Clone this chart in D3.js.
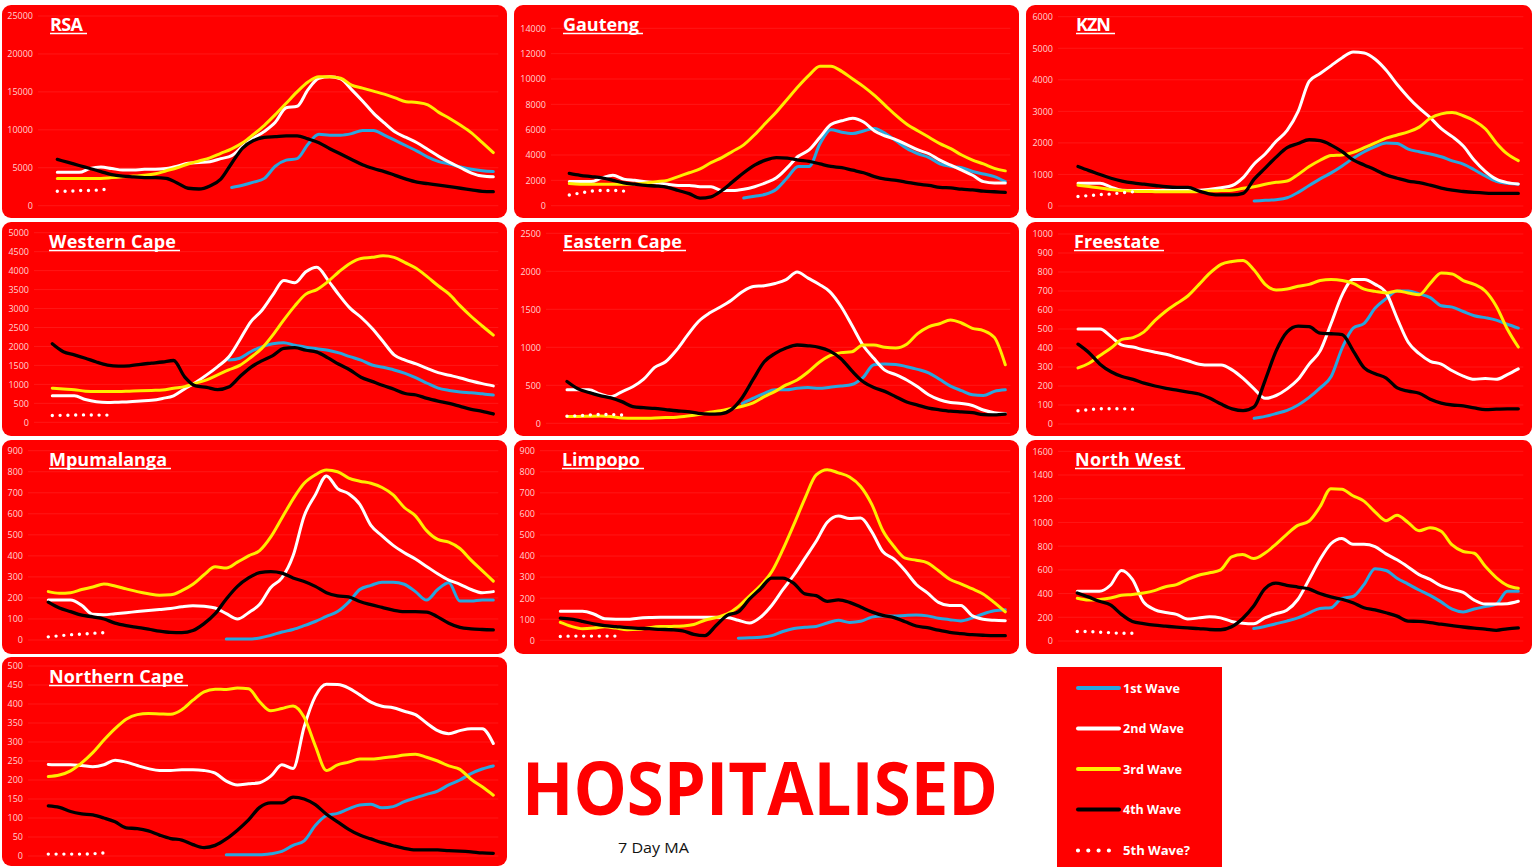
<!DOCTYPE html>
<html><head><meta charset="utf-8">
<script src="https://cdn.jsdelivr.net/npm/d3@7"></script>
<style>
html,body{margin:0;padding:0;background:#fff;}
svg{display:block;}
</style></head><body>
<svg id="chart" width="1533" height="867"></svg>
<script>
// ---------- DATA (7-day MA hospitalisations) ----------
// Waves 2-5 start at day index 0; wave 1 starts at index W1_OFFSET. 41 samples in total.
const W1_OFFSET = 16;
const waveNames = ["1st Wave", "2nd Wave", "3rd Wave", "4th Wave", "5th Wave?"];

const rsaTicks = [0, 5000, 10000, 15000, 20000, 25000];
const rsaW1 = [2400,2700,3100,3600,5200,6000,6200,8100,9400,9300,9300,9500,9900,9900,9300,8600,7900,7200,6400,5800,5500,5100,4800,4600,4500];
const rsaW2 = [4400,4400,4400,4900,5100,4900,4700,4700,4800,4800,4900,5200,5600,5700,5800,6200,6600,7800,8900,9800,11000,12900,13100,15300,16800,17000,16700,15300,13800,12200,10900,9700,9000,8300,7400,6500,5700,5000,4300,3900,3800];
const rsaW3 = [3600,3600,3600,3600,3600,3700,3800,3900,4000,4200,4600,5000,5500,5900,6300,6900,7500,8300,9400,10600,12000,13500,15000,16300,17000,17000,16800,15900,15500,15100,14700,14200,13700,13600,13300,12300,11500,10600,9600,8300,7000];
const rsaW4 = [6100,5700,5300,4900,4500,4100,3900,3800,3700,3700,3600,3000,2300,2200,2600,3500,5600,7600,8600,9000,9100,9200,9200,8800,8300,7500,6800,6100,5400,4900,4500,4000,3500,3100,2900,2700,2500,2300,2100,1900,1850];
const rsaW5 = [1900,1900,2000,2000,2100,2200];

const gautengTicks = [0, 2000, 4000, 6000, 8000, 10000, 12000, 14000];
const gautengW1 = [600,750,900,1300,2200,3100,3100,4900,6000,5800,5700,5900,6100,5700,5100,4500,4100,3800,3300,3100,3000,2700,2500,2300,1900];
const gautengW2 = [1900,1900,1900,2200,2400,2100,2000,1900,1800,1700,1600,1600,1500,1500,1200,1200,1300,1500,1800,2200,3000,3900,4400,5400,6400,6700,6900,6600,5900,5500,5200,4800,4400,4100,3600,3200,2800,2400,1900,1800,1800];
const gautengW3 = [1750,1700,1700,1700,1700,1700,1700,1800,1900,2000,2300,2600,2900,3400,3800,4300,4800,5600,6500,7400,8400,9400,10300,11000,11000,10600,10000,9400,8700,7900,7100,6400,5900,5400,4900,4500,4000,3600,3300,2950,2750];
const gautengW4 = [2550,2400,2300,2200,2000,1800,1700,1600,1550,1450,1200,950,600,700,1200,1900,2600,3200,3600,3800,3750,3600,3500,3300,3100,3000,2800,2600,2300,2100,2000,1850,1700,1600,1450,1400,1300,1250,1150,1100,1050];
const gautengW5 = [850,1000,1150,1200,1200,1150];

const kznTicks = [0, 1000, 2000, 3000, 4000, 5000, 6000];
const kznW1 = [160,180,200,260,430,650,860,1050,1270,1510,1720,1880,2000,1980,1800,1720,1650,1560,1430,1330,1150,950,780,720,690];
const kznW2 = [720,720,720,600,500,490,490,490,500,500,500,500,530,580,650,900,1330,1650,2050,2400,3000,3950,4200,4450,4700,4880,4850,4650,4300,3850,3450,3100,2800,2450,2200,1900,1450,1100,850,740,700];
const kznW3 = [660,620,570,520,490,470,460,455,450,450,450,460,480,490,500,560,610,690,750,790,1000,1250,1450,1600,1620,1700,1850,2000,2150,2250,2350,2500,2780,2920,2960,2860,2700,2450,2000,1650,1440];
const kznW4 = [1250,1120,1000,880,790,730,690,650,610,590,590,470,380,350,350,400,850,1200,1550,1850,1980,2100,2070,1930,1720,1460,1300,1150,980,880,790,740,660,570,500,460,430,410,400,400,400];
const kznW5 = [300,330,360,380,420,450];

const wcTicks = [0, 500, 1000, 1500, 2000, 2500, 3000, 3500, 4000, 4500, 5000];
const wcW1 = [1640,1690,1860,1990,2070,2100,2030,1980,1940,1900,1830,1730,1640,1510,1450,1380,1290,1170,1030,900,840,800,780,750,720];
const wcW2 = [700,700,700,600,540,520,530,540,560,580,630,700,880,1050,1250,1470,1720,2170,2650,2950,3360,3740,3680,3970,4090,3750,3360,3010,2770,2480,2130,1780,1640,1540,1420,1310,1240,1170,1090,1020,960];
const wcW3 = [900,880,860,820,810,810,810,820,830,840,850,900,940,1030,1120,1250,1380,1500,1710,1950,2300,2700,3070,3380,3500,3710,3970,4190,4320,4350,4390,4350,4210,4060,3840,3600,3380,3070,2790,2540,2300];
const wcW4 = [2070,1860,1780,1690,1590,1510,1480,1490,1530,1560,1590,1630,1200,960,920,860,930,1200,1450,1620,1760,1950,1970,1900,1850,1700,1530,1380,1190,1080,970,870,760,720,630,560,500,420,340,290,220];
const wcW5 = [180,185,190,195,190,190];

const ecTicks = [0, 500, 1000, 1500, 2000, 2500];
const ecW1 = [260,330,395,440,440,460,470,460,475,490,510,600,770,780,775,745,710,665,580,490,430,375,365,420,440];
const ecW2 = [440,440,440,385,350,415,480,580,735,810,965,1160,1340,1450,1530,1620,1730,1800,1810,1840,1890,1990,1910,1830,1730,1540,1290,1030,855,700,640,570,480,375,310,275,260,235,175,140,130];
const ecW3 = [90,90,92,95,90,70,65,65,70,75,80,95,115,145,165,195,225,270,350,420,505,570,675,800,890,930,940,1030,1030,1000,990,1040,1180,1270,1310,1360,1320,1250,1220,1130,770];
const ecW4 = [550,455,405,365,335,285,220,205,195,180,165,155,130,120,125,180,340,580,810,920,990,1030,1020,1000,950,850,690,550,470,420,350,280,240,200,178,160,150,140,115,110,120];
const ecW5 = [95,100,110,115,115,110];

const fsTicks = [0, 100, 200, 300, 400, 500, 600, 700, 800, 900, 1000];
const fsW1 = [30,40,55,72,100,140,190,250,400,505,530,610,660,700,700,685,665,622,615,592,570,560,547,525,505];
const fsW2 = [500,500,500,460,415,405,390,378,367,350,333,315,310,310,285,240,185,135,150,185,235,315,385,530,680,760,760,735,690,555,430,370,330,315,280,252,235,240,235,260,290];
const fsW3 = [295,320,360,400,445,455,485,545,595,635,675,735,795,840,855,860,810,735,705,710,725,735,755,760,755,740,710,698,690,700,690,680,740,795,790,755,735,700,620,500,405];
const fsW4 = [420,375,315,275,250,235,215,200,188,178,168,158,135,105,80,70,90,230,385,485,515,512,478,475,470,385,295,265,242,190,173,162,130,110,100,95,85,76,78,80,80];
const fsW5 = [70,75,80,80,80,78];

const mpTicks = [0, 100, 200, 300, 400, 500, 600, 700, 800, 900];
const mpW1 = [5,5,5,10,22,38,50,68,88,112,135,180,240,260,275,275,265,230,190,240,272,185,185,190,190];
const mpW2 = [190,190,190,165,122,120,125,130,135,140,145,150,158,163,160,152,125,100,130,170,250,295,400,590,690,780,720,695,645,545,495,450,415,385,350,315,285,265,240,225,230];
const mpW3 = [230,222,225,240,252,266,257,243,230,220,213,215,235,265,310,348,342,370,400,425,490,580,670,745,785,808,800,770,755,745,725,690,630,590,520,478,465,435,380,330,280];
const mpW4 = [180,152,135,118,110,100,80,68,60,52,42,36,35,45,78,125,195,255,295,320,325,318,295,278,255,225,210,205,183,168,155,142,135,135,133,110,80,60,53,50,48];
const mpW5 = [15,20,25,28,32,35];

const limTicks = [0, 100, 200, 300, 400, 500, 600, 700, 800, 900];
const limW1 = [10,12,15,22,42,56,62,66,82,95,85,90,110,115,115,118,120,116,105,98,92,105,125,140,145];
const limW2 = [138,138,138,125,102,100,100,105,108,110,110,110,110,110,110,108,95,82,110,165,240,310,390,470,560,590,578,580,515,420,385,330,265,225,180,165,165,118,100,95,93];
const limW3 = [85,66,55,58,64,58,50,52,60,65,66,68,75,95,108,125,160,210,260,325,430,550,675,785,810,795,775,730,645,520,445,390,380,368,330,290,268,245,220,180,135];
const limW4 = [105,100,90,78,70,65,60,57,55,52,50,45,28,22,70,118,135,195,245,295,295,270,220,212,185,192,180,158,135,118,108,88,68,60,48,38,32,27,24,22,22];
const limW5 = [18,20,20,20,20,20];

const nwTicks = [0, 200, 400, 600, 800, 1000, 1200, 1400, 1600];
const nwW1 = [105,122,145,168,195,235,275,280,360,375,475,610,595,530,480,430,385,330,268,245,270,290,310,420,420];
const nwW2 = [420,420,420,470,595,520,330,265,240,225,185,195,205,195,165,150,145,195,230,260,350,515,685,820,865,815,815,795,735,685,625,560,520,465,435,410,345,312,312,315,335];
const nwW3 = [360,345,350,362,385,393,405,425,458,475,520,555,575,600,710,730,695,740,815,900,975,1010,1130,1285,1280,1225,1180,1090,1015,1060,1000,930,955,925,810,755,740,630,535,470,445];
const nwW4 = [405,372,335,305,225,165,147,133,125,117,110,105,97,95,120,190,295,440,488,470,455,440,400,372,352,322,280,262,238,210,168,165,155,142,130,118,108,100,90,103,110];
const nwW5 = [80,80,75,70,65,65];

const ncTicks = [0, 50, 100, 150, 200, 250, 300, 350, 400, 450, 500];
const ncW1 = [3,3,3,3,6,12,28,40,80,106,112,124,134,136,127,130,143,153,162,171,187,200,217,229,237];
const ncW2 = [241,240,240,238,235,240,252,247,238,230,225,225,227,227,225,218,197,187,190,193,210,240,230,340,420,452,451,442,424,405,394,390,381,372,350,330,322,330,335,335,296];
const ncW3 = [209,213,224,245,272,305,335,360,372,375,374,373,385,410,432,439,438,442,440,406,382,388,395,365,290,225,240,247,255,255,258,261,266,268,260,250,237,228,202,182,160];
const ncW4 = [132,128,117,111,108,100,90,74,72,66,55,46,42,30,22,28,45,68,95,128,140,140,155,150,135,110,90,70,55,45,35,27,20,16,16,16,14,13,11,8,7];
const ncW5 = [5,5,5,5,6,8];

// ---------- STYLE / LAYOUT ----------
const waveColors = ["#2aa6de", "#ffffff", "#ffec00", "#000000", "#ffffff"];
const panelRed = "#ff0000";

const panels = [
  {title:"RSA", waves:[rsaW1,rsaW2,rsaW3,rsaW4,rsaW5], ticks:rsaTicks, box:[2,5,505,213], x0:57.3, x1:493.3, y0:205.7, y1:16, lab:33, tx:50, tw:33},
  {title:"Gauteng", waves:[gautengW1,gautengW2,gautengW3,gautengW4,gautengW5], ticks:gautengTicks, box:[514,5,505,213], x0:569.3, x1:1005.3, y0:205.7, y1:28.3, lab:546, tx:563, tw:76},
  {title:"KZN", waves:[kznW1,kznW2,kznW3,kznW4,kznW5], ticks:kznTicks, box:[1026,5,506,213], x0:1078, x1:1518.3, y0:206, y1:16.7, lab:1053, tx:1076, tw:35},
  {title:"Western Cape", waves:[wcW1,wcW2,wcW3,wcW4,wcW5], ticks:wcTicks, box:[2,222,505,214], x0:52.3, x1:493.3, y0:422.3, y1:232.7, lab:29, tx:49, tw:127},
  {title:"Eastern Cape", waves:[ecW1,ecW2,ecW3,ecW4,ecW5], ticks:ecTicks, box:[514,222,505,214], x0:567, x1:1005.3, y0:423.3, y1:233.3, lab:541, tx:563, tw:119},
  {title:"Freestate", waves:[fsW1,fsW2,fsW3,fsW4,fsW5], ticks:fsTicks, box:[1026,222,506,214], x0:1078, x1:1518.3, y0:424, y1:234, lab:1053, tx:1074, tw:86},
  {title:"Mpumalanga", waves:[mpW1,mpW2,mpW3,mpW4,mpW5], ticks:mpTicks, box:[2,440,505,214], x0:48.3, x1:493.3, y0:640, y1:450.7, lab:23, tx:49, tw:118},
  {title:"Limpopo", waves:[limW1,limW2,limW3,limW4,limW5], ticks:limTicks, box:[514,440,505,214], x0:560.3, x1:1005.3, y0:640.3, y1:450.7, lab:535, tx:562, tw:78},
  {title:"North West", waves:[nwW1,nwW2,nwW3,nwW4,nwW5], ticks:nwTicks, box:[1026,440,506,214], x0:1077.3, x1:1518.3, y0:641, y1:451.3, lab:1053, tx:1075, tw:106},
  {title:"Northern Cape", waves:[ncW1,ncW2,ncW3,ncW4,ncW5], ticks:ncTicks, box:[2,657,505,209], x0:48.3, x1:493.3, y0:856, y1:666, lab:23, tx:49, tw:135}
];

const svg = d3.select("#chart");
const FONT = "'Open Sans', 'Liberation Sans', sans-serif";

panels.forEach(p => {
  const g = svg.append("g").attr("class", "panel");
  const [bx, by, bw, bh] = p.box;
  g.append("rect").attr("x", bx).attr("y", by).attr("width", bw).attr("height", bh)
    .attr("rx", 9).attr("ry", 9).attr("fill", panelRed);

  const x = d3.scaleLinear().domain([0, 40]).range([p.x0, p.x1]);
  const y = d3.scaleLinear().domain([0, d3.max(p.ticks)]).range([p.y0, p.y1]);

  // faint gridlines
  g.append("g").selectAll("line").data(p.ticks).join("line")
    .attr("x1", p.lab + 5).attr("x2", p.x1 + 5)
    .attr("y1", d => y(d)).attr("y2", d => y(d))
    .attr("stroke", "#ffffff").attr("stroke-opacity", 0.09).attr("stroke-width", 1);

  // y axis labels
  const ax = g.append("g").attr("transform", `translate(${p.lab},0)`)
    .call(d3.axisLeft(y).tickValues(p.ticks).tickSize(0).tickPadding(0).tickFormat(d3.format("d")));
  ax.select(".domain").remove();
  ax.selectAll("text").attr("fill", "#ffd2d2").style("font-family", FONT).style("font-size", "9px");

  // wave lines
  const line = (offset) => d3.line()
    .x((d, i) => x(i + offset)).y(d => y(d)).curve(d3.curveMonotoneX);

  p.waves.forEach((vals, w) => {
    const off = w === 0 ? W1_OFFSET : 0;
    const path = g.append("path").datum(vals)
      .attr("d", line(off))
      .attr("fill", "none")
      .attr("stroke", waveColors[w])
      .attr("stroke-linecap", "round")
      .attr("stroke-linejoin", "round");
    if (w === 4) {
      path.attr("stroke-width", 3.4).attr("stroke-dasharray", "0 7.8");
    } else {
      path.attr("stroke-width", w === 3 ? 3.3 : 3);
    }
  });

  // title
  const t = g.append("text").attr("x", p.tx).attr("y", by + 25.5)
    .attr("fill", "#ffffff").style("font-family", FONT).style("font-weight", 700)
    .style("font-size", "18px").attr("textLength", p.tw).attr("lengthAdjust", "spacing")
    .text(p.title);
  g.append("line").attr("x1", p.tx).attr("x2", p.tx + p.tw + 4)
    .attr("y1", by + 28.5).attr("y2", by + 28.5)
    .attr("stroke", "#ffffff").attr("stroke-width", 1.6);
});

// ---------- LEGEND ----------
const leg = svg.append("g");
leg.append("rect").attr("x", 1057).attr("y", 667).attr("width", 165).attr("height", 200).attr("fill", panelRed);
const legY = [688, 728.5, 769, 809.5, 850.5];
const legW = [57, 61, 59, 58, 67];
waveNames.forEach((name, i) => {
  const yy = legY[i];
  const p = leg.append("path").attr("d", d3.line()([[1078, yy], [1119, yy]]))
    .attr("stroke", waveColors[i]).attr("fill", "none").attr("stroke-linecap", "round");
  if (i === 4) {
    p.attr("d", d3.line()([[1078, yy], [1109, yy]])).attr("stroke-width", 4.2).attr("stroke-dasharray", "0 10.3");
  } else {
    p.attr("stroke-width", 4);
  }
  leg.append("text").attr("x", 1123).attr("y", yy + 4.5)
    .attr("fill", "#ffffff").style("font-family", FONT).style("font-weight", 700)
    .style("font-size", "13px").attr("textLength", legW[i]).attr("lengthAdjust", "spacingAndGlyphs")
    .text(name);
});

// ---------- BIG TITLE ----------
svg.append("text").attr("x", 522).attr("y", 815)
  .attr("fill", "#ff0000").style("font-family", FONT).style("font-weight", 700)
  .style("font-size", "74px").attr("textLength", 476).attr("lengthAdjust", "spacingAndGlyphs")
  .text("HOSPITALISED");
svg.append("text").attr("x", 618).attr("y", 852.5)
  .attr("fill", "#111111").style("font-family", FONT)
  .style("font-size", "14.5px").attr("textLength", 71).attr("lengthAdjust", "spacingAndGlyphs")
  .text("7 Day MA");
</script>
</body></html>
